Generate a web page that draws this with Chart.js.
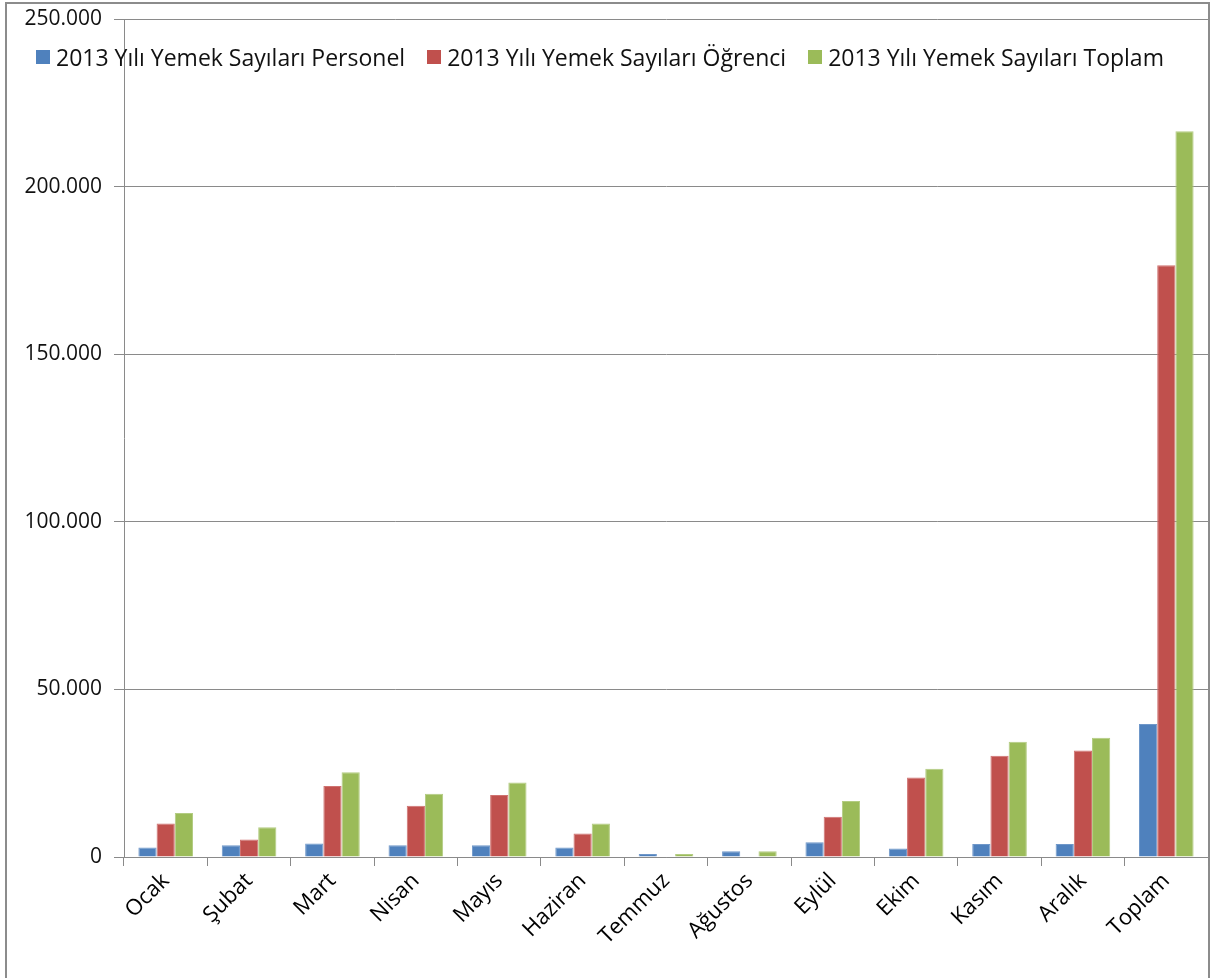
<!DOCTYPE html>
<html lang="tr">
<head>
<meta charset="utf-8">
<script src="https://cdn.jsdelivr.net/npm/chart.js@4.4.1/dist/chart.umd.min.js"></script>
<style>
    html, body { margin: 0; padding: 0; background: #fff; }
    #wrap { position: relative; width: 1215px; height: 978px; overflow: hidden; }
    #frame { position: absolute; left: 5px; top: 2px; width: 1205px; height: 1100px; border: 2px solid #8c8c8c; box-sizing: border-box; }
    canvas { position: absolute; left: 0; top: 0; }
    #legend { position: absolute; left: 36px; top: 41px; display: flex; font-family: "Open Sans", sans-serif; font-size: 23px; color: #111; }
    #legend .item { display: flex; align-items: center; margin-right: 22px; white-space: nowrap; }
    #legend .box { width: 14px; height: 14px; margin-right: 6px; }
</style>
</head>
<body>
<div id="wrap">
    <div id="frame"></div>
    <canvas id="yemekChart" width="1215" height="978"></canvas>
    <div id="legend"></div>
</div>
<script>
const months = ['Ocak', 'Şubat', 'Mart', 'Nisan', 'Mayıs', 'Haziran', 'Temmuz', 'Ağustos', 'Eylül', 'Ekim', 'Kasım', 'Aralık', 'Toplam'];
const personel = [2800, 3500, 4000, 3500, 3500, 2800, 900, 1700, 4400, 2500, 3900, 3900, 39700];
const ogrenci = [10000, 5200, 21150, 15300, 18500, 7000, 0, 0, 12000, 23700, 30200, 31800, 176500];
const toplam = [13100, 8850, 25300, 18900, 22250, 10000, 900, 1700, 16700, 26300, 34400, 35600, 216500];
const seriesNames = ['2013 Yılı Yemek Sayıları Personel', '2013 Yılı Yemek Sayıları Öğrenci', '2013 Yılı Yemek Sayıları Toplam'];
const seriesColors = ['#4F81BD', '#C0504D', '#9BBB59'];
const seriesEdges = ['#6f97c9', '#cf7270', '#b3cc82'];

const gridGray = '#8a8a8a';
const font = { family: '"Open Sans", sans-serif', size: 22 };

// legend sits inside the plot, drawn as html
document.getElementById('legend').innerHTML = seriesNames.map((name, i) => `
    <div class="item"><span class="box" style="background:${seriesColors[i]}"></span>${name}</div>
`).join('');

const ctx = document.getElementById('yemekChart').getContext('2d');
new Chart(ctx, {
    type: 'bar',
    data: {
        labels: months,
        datasets: [personel, ogrenci, toplam].map((vals, i) => ({
            label: seriesNames[i],
            data: vals,
            backgroundColor: seriesColors[i],
            borderColor: seriesEdges[i],
            borderWidth: 1,
            categoryPercentage: 0.655,
            barPercentage: 1.0
        }))
    },
    options: {
        responsive: false,
        animation: false,
        layout: { padding: { left: 0, top: 19, right: 7, bottom: 0 } },
        plugins: { legend: { display: false }, tooltip: { enabled: false } },
        scales: {
            x: {
                afterFit: (scale) => { scale.height = 121; },
                grid: { drawOnChartArea: false, drawTicks: true, tickLength: 9, color: gridGray, offset: true },
                border: { color: gridGray, width: 1 },
                ticks: { color: '#000', font: font, minRotation: 45, maxRotation: 45, padding: 2, autoSkip: false }
            },
            y: {
                min: 0,
                max: 250000,
                afterFit: (scale) => {
                    scale.width = 124;
                    // top label may hang over the plot edge, like the original
                    scale.paddingTop = 0;
                    scale.paddingBottom = 0;
                },
                ticks: {
                    stepSize: 50000,
                    color: '#111',
                    font: { family: font.family, size: 21 },
                    padding: 12,
                    callback: (v) => v.toLocaleString('de-DE')
                },
                grid: { color: gridGray, lineWidth: 1, tickLength: 10 },
                border: { color: gridGray, width: 1 }
            }
        }
    }
});
</script>
</body>
</html>
